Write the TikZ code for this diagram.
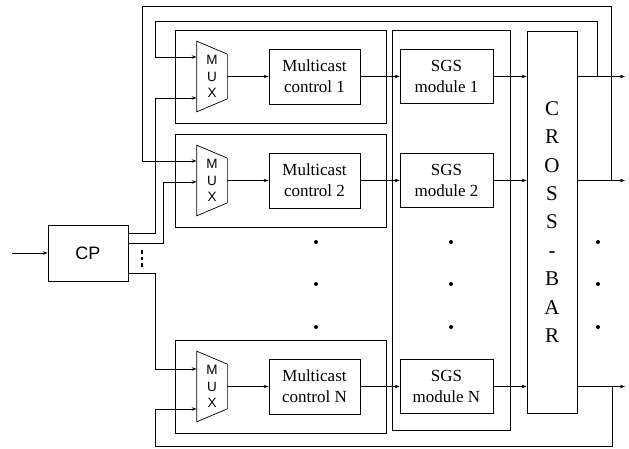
\documentclass[tikz,border=0pt]{standalone}
\usepackage{fontspec}
\setmainfont{Liberation Serif}
\setsansfont{Liberation Sans}
\usetikzlibrary{arrows.meta,calc}

\begin{document}
\begin{tikzpicture}[x=1pt,y=-1pt,>={Stealth[length=5pt,width=3.5pt]},line width=0.7pt,
  blk/.style={draw, minimum width=91pt, minimum height=55pt, inner sep=0pt, align=center, font=\fontsize{17}{21}\selectfont},
  sgsblk/.style={blk, minimum width=93pt, minimum height=54pt},
  muxtxt/.style={minimum width=30pt, minimum height=70pt, inner sep=0pt, align=center, font=\sffamily\fontsize{13.5}{16.5}\selectfont}]
\useasboundingbox (0,0) rectangle (629,448);

% control processor
\node[draw, minimum width=80pt, minimum height=56pt, font=\sffamily\fontsize{18}{20}\selectfont] (cp) at (88,253) {CP};
\coordinate (in) at (12,253);
\draw[->] (in) -- (cp);
\draw[line width=2.6pt, dash pattern=on 3.5pt off 3pt] (142,250) -- (142,269);

% crossbar and SGS group
\node[draw, minimum width=50pt, minimum height=382pt, inner sep=0pt, align=center, font=\fontsize{21}{28.4}\selectfont] (xbar) at (552,222) {C\\R\\O\\S\\S\\-\\B\\A\\R};
\draw (392,30) rectangle (510,430);

% one row per channel
\foreach \r/\y in {1/76.5,2/180.5,N/386.5}{
  \draw (175,\y-46) rectangle (386,\y+47);
  \node[muxtxt] (mux\r) at (212,\y) {M\\U\\X};
  \draw (mux\r.north west) -- ($(mux\r.north east)+(0,13)$) -- ($(mux\r.south east)+(0,-13)$) -- (mux\r.south west) -- cycle;
  \node[blk] (mc\r) at (314.5,\y) {Multicast\\control \r};
  \node[sgsblk] (sgs\r) at (446.5,\y) {SGS\\module \r};
  \coordinate (out\r) at (625,\y);
  \draw[->] (mux\r.east) -- (mc\r);
  \draw[->] (mc\r) -- (sgs\r);
  \draw[->] (sgs\r) -- (xbar.west |- sgs\r);
  \draw[->] (xbar.east |- sgs\r) -- (out\r);
}

% CP to mux inputs
\draw[->] (cp.east |- 0,233) -| (155,98) -- (mux1.west |- 0,98);
\draw[->] (cp.east |- 0,243) -| (163,182) -- (mux2.west |- 0,182);
\draw[->] (cp.east |- 0,273) -| (155,369) -- (muxN.west |- 0,369);

% feedback loops
\draw[->] (597,76.5) |- (155,21) |- (mux1.west |- 0,57);
\draw[->] (611,180.5) |- (142,6) |- (mux2.west |- 0,161);
\draw[->] (612,386.5) |- (155,446) |- (muxN.west |- 0,409);

% dots
\foreach \x in {316,451,598}
  \foreach \yy in {242,284,327}
    \fill (\x,\yy) circle (2pt);
\end{tikzpicture}
\end{document}
